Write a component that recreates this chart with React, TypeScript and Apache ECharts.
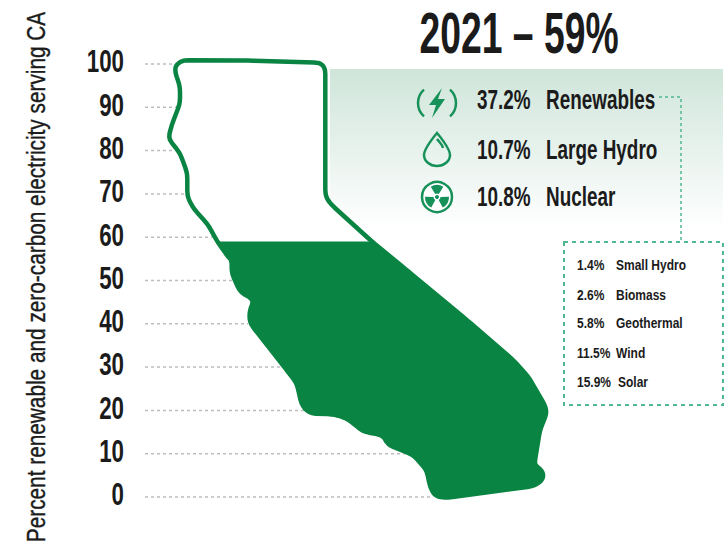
import React, { useEffect, useRef } from "react";
import * as echarts from "echarts";

const TICKS = [0, 10, 20, 30, 40, 50, 60, 70, 80, 90, 100];
const GUIDE_ENDS = [285, 265, 161, 138, 103, 87, 67, 41, 27, 33, 27];
const FILL_LEVEL = 59;

const OUTLINE_X = [38.3,101.7,175,180.3,180.3,185,225,261.7,321.7,368.3,383.3,400,401.7,395,390,390,398.3,397.7,388.3,301.7,290,285,281.7,268.3,243.3,237.7,218.3,201.7,188.3,165,156.7,151.7,141.7,105,104.3,109,95,86.7,86.7,83,72.3,63.3,48.3,42.3,42.3,35,23.3,26.7,35,35,30,31];
const OUTLINE_PCT = [100.9,100.8,100.3,99,69.7,67.8,59.4,52.4,40.9,31.6,27.8,21.2,19.3,15.5,8.5,7.4,5.8,3.9,2.5,-0.2,0.2,2.4,6.2,9.7,12,14.3,15.1,18.2,19.1,19.3,21.2,26.3,29.3,40.1,42.8,45.5,47.4,51.7,54.7,55.5,59,62.8,66.7,69.4,74.8,79.4,82.8,85.9,90.9,94.8,98.2,99.8];

const TITLE = "2021 – 59%";
const MAIN_PCT = ["37.2%", "10.7%", "10.8%"];
const MAIN_NAMES = ["Renewables", "Large Hydro", "Nuclear"];
const SUB_PCT = ["1.4%", "2.6%", "5.8%", "11.5%", "15.9%"];
const SUB_NAMES = ["Small Hydro", "Biomass", "Geothermal", "Wind", "Solar"];
const AXIS_TITLE = "Percent renewable and zero-carbon electricity serving CA";

const GREEN = "#0a8442";
const ICON = "#17915a";
const DASH = "#4fb890";
const FONT = '"Liberation Sans", sans-serif';

echarts.graphic.registerShape(
  "dropIcon",
  echarts.graphic.extendPath("M14 0 C14 0 1 15 1 22 A13 11 0 0 0 27 22 C27 15 14 0 14 0 Z M14 6 C17 10 19 11 20 15", {})
);

type P = number[];
function roundCorners(pts: P[], rounds: number, maxCut: number): P[] {
  let cur = pts;
  for (let r = 0; r < rounds; r++) {
    const next: P[] = [];
    for (let i = 0; i < cur.length; i++) {
      const a = cur[i];
      const b = cur[(i + 1) % cur.length];
      const len = Math.hypot(b[0] - a[0], b[1] - a[1]) || 1;
      const t = Math.min(0.25, maxCut / len);
      next.push([a[0] + (b[0] - a[0]) * t, a[1] + (b[1] - a[1]) * t]);
      next.push([b[0] - (b[0] - a[0]) * t, b[1] - (b[1] - a[1]) * t]);
    }
    cur = next;
  }
  return cur;
}

function belowLine(pts: P[], yLine: number): P[] {
  const out: P[] = [];
  for (let i = 0; i < pts.length; i++) {
    const a = pts[i];
    const b = pts[(i + 1) % pts.length];
    const aIn = a[1] >= yLine;
    const bIn = b[1] >= yLine;
    if (aIn) out.push(a);
    if (aIn !== bIn) {
      const t = (yLine - a[1]) / (b[1] - a[1]);
      out.push([a[0] + (b[0] - a[0]) * t, yLine]);
    }
  }
  return out;
}

function label(text: string, x: number, y: number, size: number, sx: number, align = "left") {
  return {
    type: "text",
    x,
    y,
    scaleX: sx,
    style: { text, font: `bold ${size}px ${FONT}`, fill: "#1b1b1b", textAlign: align, textVerticalAlign: "middle" },
  };
}

export default function App() {
  const ref = useRef<HTMLDivElement>(null);
  useEffect(() => {
    const chart = echarts.init(ref.current!, undefined, { renderer: "svg" });
    const mainY = [100, 150, 197];
    const subY = [265, 295, 323, 353, 382];
    const graphic: any[] = [
      {
        type: "rect",
        shape: { x: 330, y: 69, width: 393, height: 160 },
        style: {
          fill: new echarts.graphic.LinearGradient(0, 0, 0, 1, [
            { offset: 0, color: "#cfe5da" },
            { offset: 1, color: "#ffffff" },
          ]),
        },
      },
      label(TITLE, 519, 33, 57, 0.655, "center"),
      {
        type: "text",
        x: 36,
        y: 277,
        rotation: Math.PI / 2,
        scaleX: 0.8,
        style: {
          text: AXIS_TITLE,
          font: `26px ${FONT}`,
          fill: "#1b1b1b",
          stroke: "#1b1b1b",
          lineWidth: 0.4,
          textAlign: "center",
          textVerticalAlign: "middle",
        },
      },
      ...MAIN_PCT.map((t, i) => label(t, 477, mainY[i], 27, 0.7)),
      ...MAIN_NAMES.map((t, i) => label(t, 546, mainY[i], 27, 0.7)),
      ...SUB_PCT.map((t, i) => label(t, 577, subY[i], 15, 0.8)),
      ...SUB_NAMES.map((t, i) => label(t, i === 4 ? 618 : 616, subY[i], 15, 0.8)),
      {
        type: "polyline",
        shape: { points: [[659, 97], [681, 97], [681, 243]] },
        style: { stroke: DASH, lineWidth: 1.5, lineDash: [3, 3], fill: "none" },
      },
      {
        type: "rect",
        shape: { x: 564, y: 242, width: 159, height: 163 },
        style: { fill: "none", stroke: DASH, lineWidth: 2, lineDash: [4, 4] },
      },
      { type: "arc", shape: { cx: 436, cy: 103, r: 18, startAngle: 2.3, endAngle: 3.98 }, style: { stroke: ICON, lineWidth: 2.5, fill: "none" } },
      { type: "arc", shape: { cx: 438, cy: 103, r: 18, startAngle: -0.84, endAngle: 0.84 }, style: { stroke: ICON, lineWidth: 2.5, fill: "none" } },
      { type: "polygon", shape: { points: [[442, 88], [429, 105], [436, 105], [432, 118], [445, 99], [438, 99]] }, style: { fill: ICON } },
      { type: "dropIcon", x: 423, y: 133, style: { fill: "none", stroke: ICON, lineWidth: 2.5 } },
      { type: "circle", shape: { cx: 437, cy: 197, r: 15 }, style: { fill: "#fff", stroke: ICON, lineWidth: 2.5 } },
      { type: "circle", shape: { cx: 437, cy: 197, r: 2 }, style: { fill: ICON } },
      ...[-Math.PI / 2, Math.PI / 6, (5 * Math.PI) / 6].map((a) => ({
        type: "sector",
        shape: { cx: 437, cy: 197, r0: 3.5, r: 12, startAngle: a - 0.55, endAngle: a + 0.55 },
        style: { fill: ICON },
      })),
    ];

    chart.setOption({
      animation: false,
      grid: { left: 145, right: 0, top: 64, height: 433, containLabel: false, outerBoundsMode: "none" },
      xAxis: { type: "value", min: 0, max: 583, show: false },
      yAxis: {
        type: "value",
        min: 0,
        max: 100,
        interval: 10,
        axisLine: { show: false },
        axisTick: { show: false },
        splitLine: { show: false },
        axisLabel: { show: false },
      },
      graphic: { elements: graphic },
      series: [
        {
          type: "custom",
          name: "guides",
          silent: true,
          z: 2,
          data: TICKS.map((t, i) => [GUIDE_ENDS[i], t]),
          renderItem: (_p: any, api: any) => {
            const a = api.coord([0, api.value(1)]);
            const b = api.coord([api.value(0), api.value(1)]);
            return {
              type: "group",
              children: [
                {
                  type: "line",
                  shape: { x1: a[0], y1: a[1], x2: b[0], y2: b[1] },
                  style: { stroke: "#bdbdbd", lineWidth: 1.5, lineDash: [3, 3] },
                },
                {
                  type: "text",
                  x: a[0] - 21,
                  y: a[1] - 2,
                  scaleX: 0.72,
                  style: {
                    text: String(api.value(1)),
                    font: `bold 31px ${FONT}`,
                    fill: "#1b1b1b",
                    textAlign: "right",
                    textVerticalAlign: "middle",
                  },
                },
              ],
            };
          },
        },
        {
          type: "custom",
          name: "California",
          silent: true,
          z: 3,
          data: [[FILL_LEVEL]],
          renderItem: (_p: any, api: any) => {
            const raw = OUTLINE_X.map((x, i) => api.coord([x, OUTLINE_PCT[i]]));
            const smooth = roundCorners(raw, 2, 3);
            const yLine = api.coord([0, api.value(0)])[1];
            return {
              type: "group",
              children: [
                {
                  type: "polygon",
                  shape: { points: smooth },
                  style: { fill: "#ffffff", stroke: GREEN, lineWidth: 4.5, lineJoin: "round" },
                },
                {
                  type: "polygon",
                  shape: { points: belowLine(smooth, yLine) },
                  style: { fill: GREEN, stroke: "none" },
                },
              ],
            };
          },
        },
      ],
    });
    return () => chart.dispose();
  }, []);
  return <div ref={ref} style={{ position: "fixed", left: 0, top: 0, width: 728, height: 544, background: "#fff" }} />;
}
